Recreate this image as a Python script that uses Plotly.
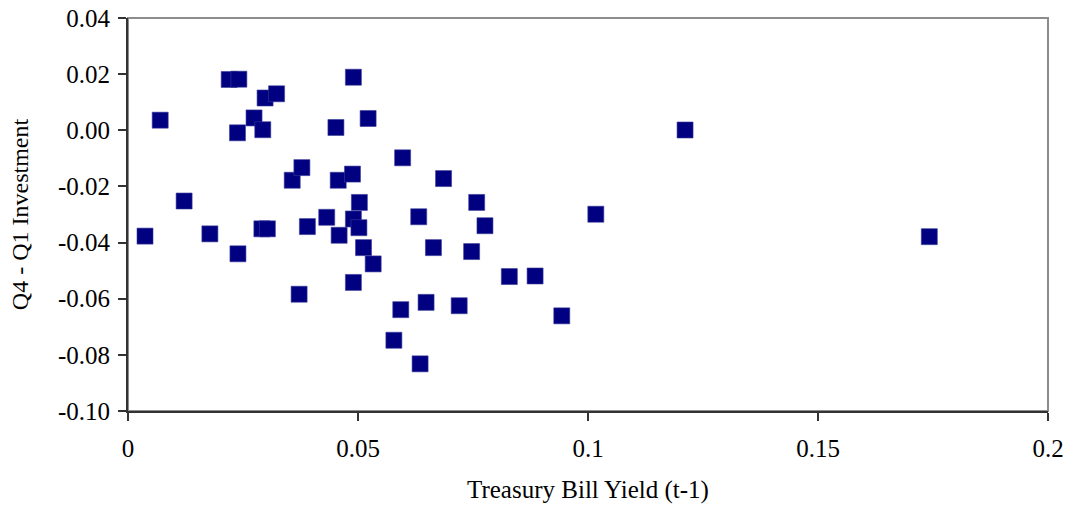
import plotly.graph_objects as go

# Lagged Treasury bill yield vs. Q4 - Q1 investment difference
tbill_yield = [
    0.0037, 0.0070, 0.0122, 0.0178, 0.0220, 0.0241, 0.0238, 0.0239, 0.0274, 0.0293,
    0.0298, 0.0323, 0.0291, 0.0303, 0.0357, 0.0378, 0.0372, 0.0390, 0.0432, 0.0452,
    0.0457, 0.0459, 0.0490, 0.0522, 0.0488, 0.0503, 0.0490, 0.0502, 0.0512, 0.0533,
    0.0490, 0.0597, 0.0686, 0.0758, 0.0632, 0.0776, 0.0664, 0.0747, 0.1017, 0.0829,
    0.0885, 0.0593, 0.0648, 0.0720, 0.0943, 0.0578, 0.0635, 0.1211, 0.1742,
]
q4_q1_investment = [
    -0.0377, 0.0036, -0.0252, -0.0369, 0.0181, 0.0182, -0.0009, -0.0440, 0.0044, 0.0002,
    0.0115, 0.0130, -0.0351, -0.0351, -0.0178, -0.0133, -0.0584, -0.0343, -0.0310, 0.0010,
    -0.0178, -0.0374, 0.0189, 0.0042, -0.0156, -0.0257, -0.0316, -0.0347, -0.0418, -0.0476,
    -0.0542, -0.0098, -0.0172, -0.0257, -0.0308, -0.0340, -0.0418, -0.0432, -0.0299, -0.0521,
    -0.0519, -0.0639, -0.0613, -0.0625, -0.0661, -0.0748, -0.0832, 0.0001, -0.0379,
]

x_ticks = [0, 0.05, 0.1, 0.15, 0.2]
x_tick_labels = ["0", "0.05", "0.1", "0.15", "0.2"]
y_ticks = [0.04, 0.02, 0.0, -0.02, -0.04, -0.06, -0.08, -0.10]
y_tick_labels = ["0.04", "0.02", "0.00", "-0.02", "-0.04", "-0.06", "-0.08", "-0.10"]

FONT = "Liberation Serif, Times New Roman, serif"

fig = go.Figure(
    go.Scatter(
        x=tbill_yield,
        y=q4_q1_investment,
        mode="markers",
        marker=dict(symbol="square", size=16, color="#000080",
                    line=dict(color="#3a3a9a", width=0.6)),
        hoverinfo="x+y",
    )
)

# grey frame on the top and right edges of the plot area
fig.add_shape(type="rect", xref="paper", yref="paper", x0=0, y0=0, x1=1, y1=1,
              line=dict(color="#8c8c8c", width=2), layer="below")

fig.update_layout(
    width=1068,
    height=505,
    margin=dict(l=128, r=20, t=18, b=94),
    paper_bgcolor="white",
    plot_bgcolor="white",
    showlegend=False,
    font=dict(family=FONT, size=25, color="black"),
    xaxis=dict(
        range=[0, 0.2],
        tickvals=x_ticks,
        ticktext=x_tick_labels,
        tickfont=dict(family=FONT, size=25, color="black"),
        automargin=False,
        showgrid=False,
        zeroline=False,
        showline=True,
        linecolor="#333333",
        linewidth=2,
        ticks="outside",
        ticklen=8,
        tickcolor="#333333",
        tickwidth=1.5,
        ticklabelstandoff=6,
        title=dict(text="Treasury Bill Yield (t-1)", font=dict(family=FONT, size=25, color="black"), standoff=19),
    ),
    yaxis=dict(
        range=[-0.10, 0.04],
        tickvals=y_ticks,
        ticktext=y_tick_labels,
        tickfont=dict(family=FONT, size=25, color="black"),
        automargin=False,
        showgrid=False,
        zeroline=False,
        showline=True,
        linecolor="#333333",
        linewidth=2,
        ticks="outside",
        ticklen=8,
        tickcolor="#333333",
        tickwidth=1.5,
        ticklabelstandoff=3,
        title=dict(text="Q4 - Q1 Investment", font=dict(family=FONT, size=24, color="black"), standoff=23),
    ),
)

fig.write_html("out.html")
